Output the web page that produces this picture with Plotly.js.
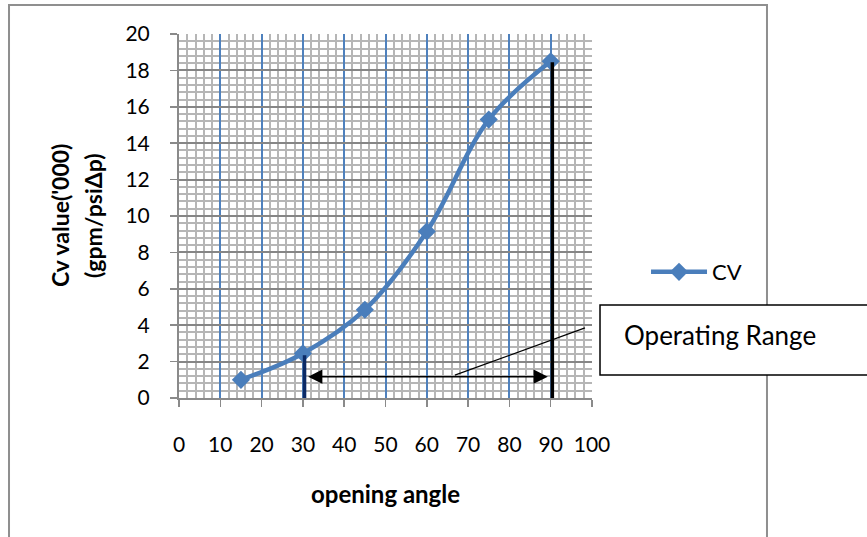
<!DOCTYPE html>
<html>
<head>
<meta charset="utf-8">
<script src="https://cdn.plot.ly/plotly-3.0.1.min.js"></script>
<style>
html,body{margin:0;padding:0;background:#fff;}
#chart{width:867px;height:537px;}
</style>
</head>
<body>
<div id="chart"></div>
<script>
// ---- data ----
var openingAngle = [15, 30, 45, 60, 75, 90];
var cvValue = [1.0, 2.45, 4.85, 9.15, 15.3, 18.5];
var seriesName = "CV";
var xTickVals = [0, 10, 20, 30, 40, 50, 60, 70, 80, 90, 100];
var yTickVals = [0, 2, 4, 6, 8, 10, 12, 14, 16, 18, 20];
var rangeStart = 30;   // operating range start angle
var rangeEnd = 90;     // operating range end angle
var rangeLabel = "Operating Range";
var xTitle = "opening angle";
var yTitleLines = ["Cv value('000)", "(gpm/psiΔp)"];

var FONT = "Lato, Carlito, Calibri, sans-serif";
var blue = "#4a7ebb";

var traces = [{
  x: openingAngle,
  y: cvValue,
  name: seriesName,
  type: "scatter",
  mode: "lines+markers",
  line: {color: blue, width: 4.5, shape: "spline", smoothing: 1},
  marker: {symbol: "diamond", size: 14, color: blue}
}];

var yAtStart = cvValue[openingAngle.indexOf(rangeStart)];
var yAtEnd = cvValue[openingAngle.indexOf(rangeEnd)];

var layout = {
  width: 867, height: 537,
  margin: {l: 179, r: 275, t: 34, b: 139, pad: 0},
  paper_bgcolor: "#ffffff",
  plot_bgcolor: "#ffffff",
  font: {family: FONT, color: "#000"},
  showlegend: true,
  legend: {
    x: 1.1308, xanchor: "left", y: 0.346, yanchor: "middle",
    itemwidth: 56,
    font: {family: FONT, size: 22, color: "#000"},
    bgcolor: "rgba(0,0,0,0)", borderwidth: 0
  },
  xaxis: {
    range: [0, 100], tickvals: xTickVals, ticktext: xTickVals.map(String),
    showgrid: true, gridcolor: "#4f81bd", gridwidth: 2,
    minor: {dtick: 2, showgrid: true, gridcolor: "#b6b6b6", gridwidth: 2, ticks: ""},
    zeroline: false, showline: true, linecolor: "#8a8a8a", linewidth: 2,
    ticks: "outside", ticklen: 7, tickcolor: "#8a8a8a", tickwidth: 1.5,
    ticklabelstandoff: 20,
    tickfont: {family: FONT, size: 21, color: "#000"},
    fixedrange: true
  },
  yaxis: {
    range: [0, 20], tickvals: yTickVals, ticktext: yTickVals.map(String),
    showgrid: true, gridcolor: "#868686", gridwidth: 2,
    minor: {dtick: 0.4, showgrid: true, gridcolor: "#b6b6b6", gridwidth: 2, ticks: ""},
    zeroline: false, showline: true, linecolor: "#8a8a8a", linewidth: 2,
    ticks: "outside", ticklen: 7, tickcolor: "#8a8a8a", tickwidth: 1.5,
    ticklabelstandoff: 16,
    tickfont: {family: FONT, size: 21, color: "#000"},
    fixedrange: true
  },
  shapes: [
    {type: "rect", xref: "paper", yref: "paper", x0: -0.4116, x1: 1.4237, y0: -0.45, y1: 1.0797,
     line: {color: "#8f8f8f", width: 2}, fillcolor: "rgba(0,0,0,0)", layer: "below"},
    {type: "line", xref: "x", yref: "y", x0: rangeStart + 0.4, x1: rangeStart + 0.4, y0: 0, y1: yAtStart - 0.1,
     line: {color: "#0b2a66", width: 3.5}, layer: "above"},
    {type: "line", xref: "x", yref: "y", x0: rangeEnd + 0.4, x1: rangeEnd + 0.4, y0: 0, y1: yAtEnd - 0.05,
     line: {color: "#000000", width: 3.5}, layer: "above"},
    {type: "line", xref: "x", yref: "y", x0: 66.8, y0: 1.26, x1: 98.3, y1: 3.85,
     line: {color: "#000000", width: 1.2}, layer: "above"},
    {type: "rect", xref: "paper", yref: "paper", x0: 1.0194, x1: 1.72, y0: 0.0632, y1: 0.2555,
     line: {color: "#000000", width: 1.5}, fillcolor: "#ffffff", layer: "above"}
  ],
  annotations: [
    {xref: "x", yref: "y", axref: "x", ayref: "y",
     x: rangeEnd - 0.7, y: 1.17, ax: rangeStart + 0.9, ay: 1.17,
     text: "", showarrow: true, arrowside: "end+start",
     arrowhead: 2, startarrowhead: 2, arrowwidth: 1.5, arrowsize: 1.9, startarrowsize: 1.9,
     arrowcolor: "#000", standoff: 0, startstandoff: 0},
    {xref: "paper", yref: "paper", x: 1.0726, y: 0.173, xanchor: "left", yanchor: "middle",
     text: rangeLabel, showarrow: false, font: {family: FONT, size: 26, color: "#000"}},
    {xref: "paper", yref: "paper", x: 0.4988, y: -0.261, xanchor: "center", yanchor: "middle",
     text: "<b>" + xTitle + "</b>", showarrow: false, font: {family: FONT, size: 24, color: "#000"}},
    {xref: "paper", yref: "paper", x: -0.288, y: 0.5, xanchor: "center", yanchor: "middle",
     textangle: -90, text: "<b>" + yTitleLines[0] + "</b>", showarrow: false,
     font: {family: FONT, size: 23, color: "#000"}},
    {xref: "paper", yref: "paper", x: -0.2082, y: 0.5, xanchor: "center", yanchor: "middle",
     textangle: -90, text: "<b>" + yTitleLines[1] + "</b>", showarrow: false,
     font: {family: FONT, size: 23, color: "#000"}}
  ]
};

Plotly.newPlot("chart", traces, layout, {displayModeBar: false, staticPlot: true});
</script>
</body>
</html>
